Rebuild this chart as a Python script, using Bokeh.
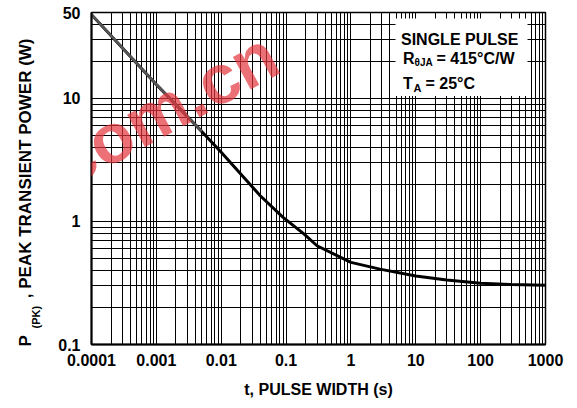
import math
from bokeh.plotting import figure
from bokeh.layouts import row
from bokeh.models import (Range1d, FixedTicker, CustomJSTickFormatter, Label,
                          BoxAnnotation)
from bokeh.embed import file_html
from bokeh.resources import INLINE

# ---- data ----
pulse_width_s = [0.0001, 0.001, 0.005, 0.01, 0.04, 0.09, 0.19, 0.3, 1, 2.8,
                 10, 30, 100, 300, 1000]
peak_power_w = [48, 13, 5.4, 3.65, 1.62, 1.08, 0.79, 0.635, 0.465, 0.41,
                0.36, 0.335, 0.315, 0.307, 0.303]

x_ticks = [0.0001, 0.001, 0.01, 0.1, 1, 10, 100, 1000]
x_tick_labels = ["0.0001", "0.001", "0.01", "0.1", "1", "10", "100", "1000"]
y_ticks = [0.1, 1, 10, 50]
y_tick_labels = ["0.1", "1", "10", "50"]

x_grid = [k * 10.0 ** n for n in range(-4, 3) for k in range(1, 10)] + [1000]
y_grid = [k * 10.0 ** n for n in range(-1, 2) for k in range(1, 10)] + [20, 30, 40, 50]

FONT = "Liberation Sans"
W_TOTAL, H_TOTAL = 577, 408
W_LEFT = 52              # narrow panel holding the y-axis title
FRAME_L, FRAME_R, FRAME_T, FRAME_B = 91, 545, 12, 344

# ---------------- left panel (y-axis title) ----------------
left = figure(width=W_LEFT, height=H_TOTAL, x_range=Range1d(0, W_LEFT),
              y_range=Range1d(H_TOTAL, 0), output_backend="svg",
              toolbar_location=None, x_axis_location=None, y_axis_location=None,
              min_border=0)
left.outline_line_color = None
left.xgrid.visible = False
left.ygrid.visible = False
left.background_fill_color = "white"
left.border_fill_color = "white"

# ---------------- main chart ----------------
p = figure(width=W_TOTAL - W_LEFT, height=H_TOTAL, x_axis_type="log",
           y_axis_type="log", x_range=Range1d(1e-4, 1e3), y_range=Range1d(0.1, 50),
           output_backend="svg", toolbar_location=None,
           min_border_left=FRAME_L - W_LEFT, min_border_right=W_TOTAL - FRAME_R,
           min_border_top=FRAME_T, min_border_bottom=H_TOTAL - FRAME_B)
p.background_fill_color = "white"
p.border_fill_color = "white"
p.outline_line_color = "black"
p.outline_line_width = 1.5

# do not stretch the title panel's frame to match the chart's frame
for fig in (left, p):
    try:
        fig.frame_align = False
    except Exception:
        pass


def fmt(tks, lbs):
    return CustomJSTickFormatter(args=dict(tks=tks, lbs=lbs), code="""
        let best = 0, bd = Infinity;
        for (let i = 0; i < tks.length; i++) {
            const d = Math.abs(Math.log10(tick) - Math.log10(tks[i]));
            if (d < bd) { bd = d; best = i; }
        }
        return lbs[best];
    """)


for ax, tk, lb in ((p.xaxis[0], x_ticks, x_tick_labels), (p.yaxis[0], y_ticks, y_tick_labels)):
    ax.ticker = FixedTicker(ticks=tk)
    ax.formatter = fmt(tk, lb)
    ax.major_tick_line_color = None
    ax.minor_tick_line_color = None
    ax.major_tick_out = 0
    ax.major_tick_in = 0
    ax.minor_tick_out = 0
    ax.axis_line_width = 2
    ax.axis_line_color = "black"
    ax.major_label_text_font = FONT
    ax.major_label_text_font_style = "bold"
    ax.major_label_text_font_size = "16px"
    ax.major_label_text_color = "black"

p.xaxis.major_label_standoff = 9
p.yaxis.major_label_standoff = 11
p.xaxis.axis_label = "t, PULSE WIDTH (s)"
p.xaxis.axis_label_text_font = FONT
p.xaxis.axis_label_text_font_style = "bold"
p.xaxis.axis_label_text_font_size = "16px"
p.xaxis.axis_label_text_color = "black"
p.xaxis.axis_label_standoff = 12

p.xgrid.ticker = FixedTicker(ticks=x_grid)
p.ygrid.ticker = FixedTicker(ticks=y_grid)
for g in (p.xgrid[0], p.ygrid[0]):
    g.grid_line_color = "black"
    g.grid_line_width = 1
    g.grid_line_alpha = 1.0


# helpers: picture pixel position -> main-chart data position (annotations only)
def px_x(px):
    return 10 ** (-4 + 7 * (px - FRAME_L) / (FRAME_R - FRAME_L))


def px_y(py):
    return 10 ** (-1 + math.log10(500) * (FRAME_B - py) / (FRAME_B - FRAME_T))


# white box behind the condition text
p.add_layout(BoxAnnotation(left=px_x(395), right=px_x(527), top=px_y(18),
                           bottom=px_y(95.5), fill_color="white", fill_alpha=1,
                           line_color=None, level="underlay"))

# curve
p.line(pulse_width_s, peak_power_w, line_color="black", line_width=3)
p.line(pulse_width_s[:3], peak_power_w[:3], line_color="#555555", line_width=2.6)


def lab(fig, text, px, py, size, angle=0, align="left", baseline="alphabetic",
        color="black", alpha=1.0, style="bold"):
    if fig is p:
        x, y = px_x(px), px_y(py)
    else:
        x, y = px, py
    fig.add_layout(Label(x=x, y=y, text=text, angle=angle,
                         text_align=align, text_baseline=baseline,
                         text_font=FONT, text_font_style=style,
                         text_font_size=f"{size}px", text_color=color,
                         text_alpha=alpha))


# condition text
lab(p, "SINGLE PULSE", 400.5, 39, 16)
lab(p, "R", 402.5, 58, 16)
lab(p, "θJA", 414, 61.5, 10)
lab(p, "= 415°C/W", 436, 58, 16)
lab(p, "T", 402.5, 83, 16)
lab(p, "A", 413, 87.5, 11)
lab(p, "= 25°C", 425, 83, 16)

# y axis title with subscript
lab(left, "P", 25, 346, 17, angle=math.pi / 2)
lab(left, "(PK)", 35, 328, 11, angle=math.pi / 2)
lab(left, ", PEAK TRANSIENT POWER (W)", 25, 38, 17, angle=math.pi / 2, align="right")

# watermark
lab(p, ".com.cn", 156, 113, 70, angle=0.5, align="center", baseline="middle",
    color="#e3343c", alpha=0.7)

layout = row(left, p)
open("out.html", "w").write(file_html(layout, INLINE))
